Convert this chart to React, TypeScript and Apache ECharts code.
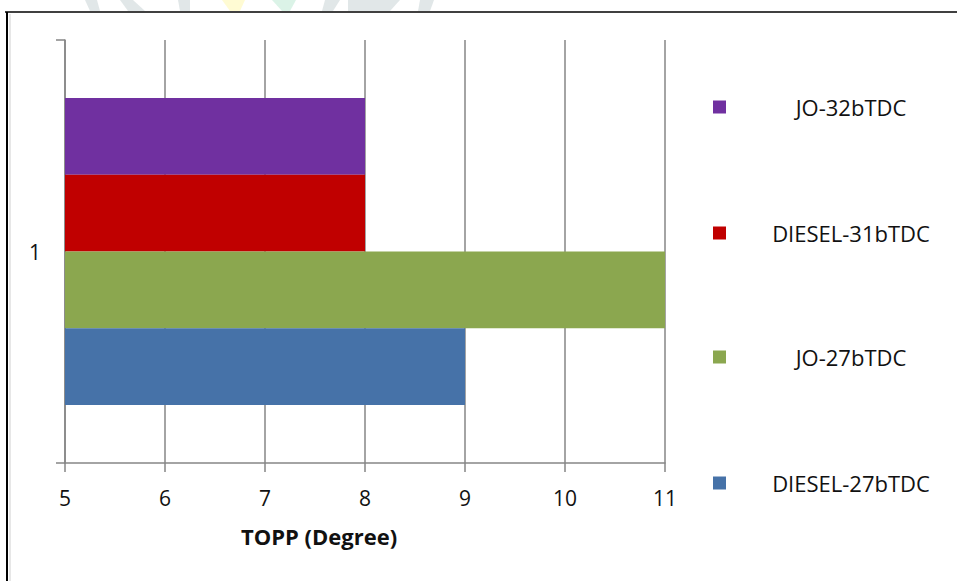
import React, { useEffect, useRef } from "react";
import * as echarts from "echarts";

const categories = ["1"];
const seriesNames = ["JO-32bTDC", "DIESEL-31bTDC", "JO-27bTDC", "DIESEL-27bTDC"];
const jo32 = [8];
const diesel31 = [8];
const jo27 = [11];
const diesel27 = [9];
const colors = ["#7030A0", "#C00000", "#8BA74F", "#4672A8"];
const legendCenters = [107, 233, 357, 483];
const xTicks = { min: 5, max: 11, interval: 1 };

export default function App() {
  const ref = useRef<HTMLDivElement>(null);
  useEffect(() => {
    if (!ref.current) return;
    const chart = echarts.init(ref.current, null, { renderer: "svg" });
    const font = "'Open Sans', 'Liberation Sans', sans-serif";
    const values = [jo32, diesel31, jo27, diesel27];
    const wm = "rgba(200,212,214,0.55)";
    const txt = "#111111";
    chart.setOption({
      animation: false,
      backgroundColor: "#ffffff",
      textStyle: { fontFamily: font },
      grid: { left: 65, right: 292, top: 40, bottom: 118 },
      legend: seriesNames.map((name, i) => ({
        data: [name],
        orient: "vertical",
        left: 713,
        top: legendCenters[i] - 12,
        padding: 0,
        itemWidth: 13,
        itemHeight: 13,
        icon: "rect",
        formatter: "{a|{name}}",
        textStyle: {
          fontFamily: font,
          fontSize: 22,
          color: txt,
          rich: {
            a: { width: 240, align: "center", fontSize: 22, lineHeight: 24, height: 24, fontFamily: font, color: txt },
          },
        },
      })),
      xAxis: {
        type: "value",
        min: xTicks.min,
        max: xTicks.max,
        interval: xTicks.interval,
        name: "TOPP (Degree)",
        nameLocation: "middle",
        nameGap: 62,
        nameTextStyle: {
          fontFamily: font,
          fontSize: 22,
          fontWeight: "bold",
          color: txt,
          padding: [0, 92, 0, 0],
        },
        axisLine: { show: true, lineStyle: { color: "#868686", width: 1.5 } },
        axisTick: { show: true, length: 9, lineStyle: { color: "#868686", width: 1.5 } },
        axisLabel: { margin: 24, fontSize: 21, color: txt, fontFamily: font },
        splitLine: { show: true, lineStyle: { color: "#868686", width: 1.5 } },
      },
      yAxis: {
        type: "category",
        data: categories,
        axisLine: { show: true, lineStyle: { color: "#868686", width: 1.5 } },
        axisTick: { show: true, length: 9, lineStyle: { color: "#868686", width: 1.5 } },
        axisLabel: { margin: 24, fontSize: 21, color: txt, fontFamily: font },
        splitLine: { show: false },
      },
      series: seriesNames.map((name, i) => ({
        name,
        type: "bar",
        data: values[i],
        itemStyle: { color: colors[i] },
        barGap: "0%",
        barCategoryGap: "27.4%",
      })),
      graphic: [
        { type: "polygon", shape: { points: [[85, 0], [97, 0], [100, 11], [90, 11]] }, style: { fill: wm } },
        { type: "polygon", shape: { points: [[120, 0], [133, 0], [145, 11], [128, 11]] }, style: { fill: wm } },
        { type: "polygon", shape: { points: [[178, 0], [190, 0], [190, 11], [180, 11]] }, style: { fill: wm } },
        { type: "polygon", shape: { points: [[222, 0], [245, 0], [240, 11], [230, 11]] }, style: { fill: "rgba(255,250,200,0.8)" } },
        { type: "polygon", shape: { points: [[272, 0], [296, 0], [290, 11], [282, 11]] }, style: { fill: "rgba(210,240,225,0.8)" } },
        { type: "polygon", shape: { points: [[325, 0], [340, 0], [333, 11], [322, 11]] }, style: { fill: wm } },
        { type: "polygon", shape: { points: [[348, 0], [400, 0], [390, 11], [348, 11]] }, style: { fill: wm } },
        { type: "polygon", shape: { points: [[420, 0], [434, 0], [430, 11], [418, 11]] }, style: { fill: wm } },
        { type: "line", shape: { x1: 5, y1: 12, x2: 957, y2: 12 }, style: { stroke: "#000", lineWidth: 1.5 } },
        { type: "line", shape: { x1: 7, y1: 12, x2: 7, y2: 581 }, style: { stroke: "#000", lineWidth: 2 } },
        { type: "line", shape: { x1: 10, y1: 14, x2: 10, y2: 581 }, style: { stroke: "#d0d0d0", lineWidth: 1 } },
      ],
    });
    return () => chart.dispose();
  }, []);
  return (
    <div
      ref={ref}
      style={{ position: "fixed", left: 0, top: 0, width: 957, height: 581 }}
    />
  );
}
